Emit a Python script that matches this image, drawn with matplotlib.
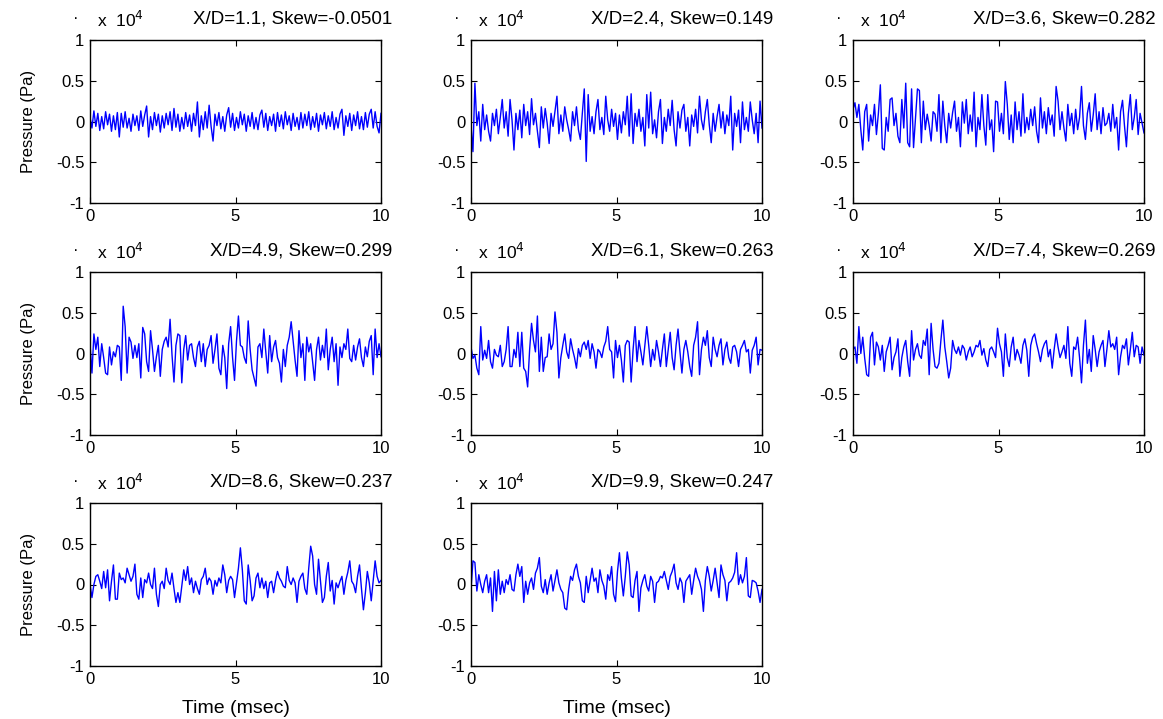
import numpy as np
import matplotlib
matplotlib.use("Agg")
import matplotlib.pyplot as plt

# ----------------------------------------------------------------------------------------------------------------------
# Pressure Traces (x 10^4 Pa), 150 Samples Over 10 msec

x_over_d = ["1.1", "2.4", "3.6", "4.9", "6.1", "7.4", "8.6", "9.9"]
skew = ["-0.0501", "0.149", "0.282", "0.299", "0.263", "0.269", "0.237", "0.247"]

p_11 = [0.05, -0.08, 0.13, -0.06, 0.10, -0.11, 0.06, -0.09, 0.12, -0.04,
        0.09, -0.12, 0.07, -0.10, 0.11, -0.19, 0.10, -0.07, 0.12, -0.08,
        0.04, -0.12, 0.09, -0.05, 0.07, -0.11, 0.13, -0.06, 0.08, 0.19,
        -0.19, 0.06, -0.10, 0.11, -0.05, 0.09, -0.13, 0.07, -0.08, 0.10,
        -0.04, 0.12, -0.11, 0.16, -0.07, 0.09, -0.12, 0.05, -0.09, 0.11,
        -0.06, 0.08, -0.12, 0.10, -0.05, 0.24, -0.19, 0.07, -0.10, 0.12,
        -0.08, 0.20, -0.06, -0.24, 0.09, -0.05, 0.11, -0.09, 0.06, -0.12,
        0.08, 0.17, -0.07, 0.10, -0.11, 0.05, -0.08, 0.12, -0.04, 0.09,
        -0.12, 0.07, -0.06, 0.11, -0.09, 0.05, -0.10, 0.08, 0.14, -0.07,
        0.10, -0.11, 0.06, -0.05, 0.09, -0.12, 0.11, -0.06, 0.08, -0.09,
        0.12, -0.04, 0.07, -0.11, 0.10, -0.06, 0.05, -0.10, 0.11, -0.08,
        0.09, -0.05, 0.12, -0.10, 0.06, -0.07, 0.10, -0.12, 0.08, -0.04,
        0.11, -0.09, 0.07, -0.06, 0.12, -0.10, 0.05, -0.08, 0.09, 0.15,
        -0.17, 0.07, -0.06, 0.10, -0.11, 0.08, -0.05, 0.12, -0.09, 0.06,
        -0.10, 0.11, -0.07, 0.09, 0.15, -0.08, 0.12, -0.06, -0.14, 0.10]

p_24 = [-0.05, -0.37, 0.47, -0.05, 0.12, -0.24, 0.21, -0.10, 0.08, -0.12,
        -0.24, 0.10, -0.05, 0.15, -0.15, 0.05, 0.27, -0.08, 0.12, -0.18,
        0.27, 0.02, -0.35, 0.10, -0.10, 0.14, -0.20, 0.21, -0.05, 0.12,
        -0.16, 0.28, -0.04, 0.10, -0.12, -0.32, 0.18, -0.08, 0.16, -0.02,
        -0.27, 0.10, -0.06, 0.12, 0.31, -0.15, 0.08, -0.12, 0.18, 0.02,
        -0.10, -0.24, 0.12, -0.05, 0.18, -0.10, -0.22, 0.10, 0.40, -0.49,
        0.33, -0.12, 0.06, -0.15, 0.12, 0.27, -0.10, 0.05, -0.16, 0.31,
        0.02, -0.12, 0.15, -0.06, 0.10, -0.22, 0.08, -0.14, 0.12, -0.04,
        0.31, -0.18, 0.34, -0.27, 0.10, -0.06, 0.15, -0.12, 0.05, -0.30,
        0.33, -0.08, 0.36, -0.15, 0.02, -0.20, 0.12, 0.27, -0.27, 0.05,
        -0.12, 0.15, -0.05, 0.26, -0.10, -0.30, 0.12, -0.08, 0.14, 0.21,
        -0.12, 0.05, -0.30, 0.08, -0.06, 0.15, -0.14, 0.31, 0.02, -0.10,
        0.12, 0.27, -0.04, -0.26, 0.10, -0.12, 0.06, 0.21, -0.08, 0.12,
        -0.15, 0.08, -0.05, 0.31, -0.35, 0.10, -0.06, 0.14, -0.26, 0.24,
        -0.10, 0.05, -0.12, 0.24, 0.02, -0.15, 0.10, -0.26, 0.25, -0.08]

p_36 = [0.15, 0.23, 0.05, 0.21, -0.10, -0.35, 0.12, 0.21, -0.24, 0.08,
        -0.05, 0.21, -0.16, 0.10, 0.45, -0.33, -0.35, 0.05, -0.12, 0.27,
        0.29, -0.05, 0.10, -0.18, -0.26, 0.27, -0.08, 0.47, -0.26, -0.31,
        0.40, -0.32, 0.05, 0.40, 0.38, -0.26, 0.25, -0.10, 0.09, -0.05,
        -0.24, 0.12, 0.09, -0.12, 0.33, -0.26, 0.25, -0.05, -0.26, 0.10,
        -0.08, 0.11, 0.25, -0.12, 0.05, -0.31, 0.24, -0.02, 0.27, -0.15,
        0.08, -0.12, 0.36, -0.31, 0.05, -0.10, 0.33, -0.05, -0.29, 0.33,
        -0.10, 0.02, -0.37, 0.25, 0.24, -0.12, 0.10, -0.15, 0.49, 0.21,
        -0.22, 0.08, -0.26, 0.24, -0.10, 0.12, -0.18, 0.34, -0.14, 0.05,
        -0.10, 0.15, -0.05, 0.18, -0.12, -0.26, 0.29, -0.08, 0.12, -0.15,
        0.17, -0.04, 0.08, -0.18, 0.43, 0.25, -0.10, 0.12, -0.08, -0.24,
        0.21, -0.05, 0.10, -0.15, 0.15, -0.10, 0.05, 0.43, -0.05, -0.22,
        0.10, 0.23, -0.12, 0.08, 0.34, -0.10, 0.12, -0.15, 0.17, -0.05,
        -0.02, 0.10, -0.12, 0.21, -0.08, 0.05, -0.35, 0.12, 0.26, -0.05,
        -0.31, 0.10, 0.33, -0.10, 0.05, 0.27, -0.16, 0.10, -0.02, -0.14]

p_49 = [0.12, -0.24, 0.24, 0.05, 0.20, -0.16, 0.12, -0.05, -0.24, -0.26,
        0.08, -0.14, 0.02, -0.04, 0.10, 0.08, -0.33, 0.58, 0.33, -0.24,
        0.20, 0.14, -0.06, 0.10, -0.05, 0.12, -0.30, 0.32, 0.24, -0.10,
        -0.22, 0.28, 0.05, -0.22, -0.04, 0.10, -0.28, 0.05, 0.15, 0.20,
        0.08, 0.42, -0.02, -0.35, 0.10, 0.24, 0.22, -0.36, 0.05, 0.22,
        -0.08, 0.10, 0.12, -0.05, -0.16, 0.08, 0.15, -0.10, 0.12, -0.16,
        0.05, 0.10, 0.22, -0.12, 0.05, 0.24, -0.18, -0.26, 0.10, -0.05,
        -0.43, 0.12, 0.33, -0.05, -0.33, 0.15, 0.46, 0.10, 0.08, -0.05,
        -0.12, 0.40, 0.05, -0.20, -0.30, -0.40, 0.08, 0.12, -0.05, 0.30,
        0.02, -0.24, 0.22, -0.10, 0.08, 0.16, -0.05, -0.12, -0.35, 0.05,
        -0.16, 0.10, 0.20, 0.39, 0.16, -0.08, -0.28, 0.28, -0.05, 0.12,
        -0.33, 0.20, 0.02, 0.12, -0.10, -0.33, 0.05, 0.20, -0.08, 0.10,
        -0.05, 0.30, -0.20, 0.05, 0.20, -0.10, 0.12, -0.39, 0.08, -0.05,
        0.12, 0.05, 0.30, -0.06, -0.10, 0.10, -0.08, 0.08, 0.18, -0.05,
        -0.16, 0.08, -0.04, 0.15, 0.22, -0.26, 0.30, -0.05, 0.12, -0.04]

p_61 = [0.08, -0.06, -0.02, -0.18, -0.26, 0.33, -0.08, 0.04, -0.06, 0.16,
        -0.10, -0.18, 0.05, -0.02, -0.04, 0.10, -0.16, -0.10, 0.05, 0.33,
        -0.16, -0.16, 0.05, -0.05, 0.26, -0.16, 0.26, -0.18, -0.22, -0.41,
        0.04, 0.37, 0.16, 0.02, 0.46, -0.22, 0.20, -0.22, -0.05, -0.04,
        0.24, 0.05, 0.12, 0.51, 0.26, -0.30, -0.05, 0.10, 0.24, 0.02,
        -0.06, 0.18, 0.05, -0.05, -0.18, 0.06, -0.04, 0.10, 0.14, 0.05,
        0.16, -0.06, 0.12, 0.02, -0.18, 0.05, 0.02, -0.05, 0.08, 0.15,
        0.33, 0.05, 0.02, -0.30, 0.16, -0.05, 0.10, -0.08, -0.35, 0.10,
        0.16, 0.14, -0.35, 0.05, 0.33, -0.10, 0.16, 0.02, -0.14, 0.10,
        0.33, 0.10, -0.16, 0.05, -0.08, 0.16, 0.02, -0.16, 0.05, 0.24,
        -0.16, 0.05, 0.26, -0.05, -0.20, 0.10, 0.30, 0.02, -0.24, 0.05,
        0.16, 0.02, -0.16, -0.28, 0.10, 0.20, 0.39, -0.26, 0.05, 0.20,
        0.10, 0.28, -0.05, -0.16, 0.20, 0.05, -0.04, 0.10, 0.18, -0.14,
        0.05, 0.14, -0.05, -0.12, 0.08, 0.10, 0.02, -0.16, 0.05, 0.10,
        0.16, 0.02, 0.05, -0.24, 0.04, 0.10, 0.20, -0.14, 0.05, 0.04]

p_74 = [0.05, 0.08, -0.12, 0.33, 0.00, 0.20, -0.06, -0.26, -0.28, 0.20,
        0.26, -0.14, 0.14, 0.08, -0.08, 0.10, -0.22, 0.02, 0.10, 0.20,
        -0.20, -0.05, 0.02, 0.18, -0.28, -0.05, 0.08, 0.16, -0.10, -0.28,
        0.28, -0.08, 0.05, 0.12, -0.02, -0.06, 0.16, 0.10, 0.30, -0.26,
        0.37, 0.05, -0.16, -0.18, -0.12, 0.16, 0.41, 0.08, -0.10, -0.30,
        -0.18, 0.16, 0.05, 0.00, 0.08, -0.02, 0.10, 0.06, -0.08, 0.02,
        0.08, -0.04, 0.02, 0.10, 0.08, 0.16, -0.02, 0.06, -0.08, -0.16,
        0.05, 0.08, 0.02, -0.05, 0.31, 0.12, 0.02, -0.28, 0.24, -0.05,
        -0.16, 0.08, 0.20, -0.08, 0.05, -0.02, -0.12, 0.10, 0.18, 0.04,
        -0.28, 0.10, 0.20, 0.24, 0.12, 0.02, -0.10, 0.05, 0.12, 0.16,
        -0.04, 0.05, -0.18, 0.05, 0.24, 0.08, -0.05, 0.02, 0.10, -0.06,
        0.33, -0.12, -0.28, 0.08, 0.05, 0.20, -0.05, -0.36, 0.10, 0.41,
        -0.12, 0.05, -0.22, 0.22, 0.05, -0.16, 0.02, 0.10, 0.16, -0.16,
        0.05, 0.28, 0.08, 0.12, 0.05, 0.20, -0.26, -0.04, 0.10, 0.06,
        0.18, -0.14, 0.05, 0.26, -0.04, 0.10, 0.08, -0.12, 0.08, -0.02]

p_86 = [0.00, -0.16, 0.00, 0.10, 0.12, 0.04, -0.05, 0.16, -0.04, 0.18,
        -0.20, 0.04, 0.24, -0.18, -0.18, 0.14, 0.06, 0.08, 0.02, 0.20,
        0.12, 0.04, 0.10, 0.25, -0.12, -0.18, 0.08, -0.16, 0.06, 0.02,
        0.14, 0.00, -0.05, 0.20, -0.12, -0.27, 0.00, 0.04, -0.05, 0.20,
        0.05, 0.00, 0.14, -0.05, -0.22, -0.10, -0.22, -0.02, 0.18, 0.05,
        0.22, 0.00, 0.08, -0.10, 0.04, -0.05, -0.12, 0.06, 0.10, 0.20,
        0.00, 0.08, 0.04, -0.12, 0.05, -0.02, 0.08, 0.02, 0.24, 0.12,
        -0.10, 0.05, 0.10, 0.06, -0.16, 0.02, 0.20, 0.45, 0.18, -0.20,
        -0.24, 0.24, 0.05, -0.20, -0.14, 0.08, 0.14, -0.04, 0.08, -0.05,
        0.04, -0.16, 0.02, 0.04, -0.10, 0.05, 0.16, 0.08, 0.04, -0.02,
        -0.04, 0.22, 0.05, 0.00, 0.08, 0.02, -0.22, 0.04, 0.10, 0.14,
        -0.05, -0.12, 0.20, 0.47, 0.35, 0.00, -0.12, 0.31, 0.05, -0.22,
        -0.16, 0.10, 0.27, -0.08, 0.05, -0.24, 0.02, -0.04, 0.04, 0.10,
        -0.12, 0.05, 0.15, 0.29, 0.04, 0.00, -0.10, 0.10, 0.24, -0.05,
        -0.31, -0.10, 0.16, 0.02, -0.20, 0.05, 0.29, 0.10, 0.02, 0.05]

p_99 = [-0.06, 0.29, 0.27, -0.08, 0.12, 0.00, -0.10, 0.04, 0.12, -0.10,
        0.08, -0.33, 0.16, -0.20, 0.18, -0.12, 0.04, -0.10, 0.06, 0.00,
        0.12, -0.06, -0.08, 0.12, 0.25, 0.10, 0.22, -0.22, 0.04, -0.12,
        0.02, 0.08, -0.06, 0.14, 0.20, 0.33, -0.02, -0.10, 0.06, -0.12,
        0.02, 0.12, -0.08, 0.05, 0.18, 0.02, -0.06, -0.10, -0.29, -0.31,
        -0.06, 0.10, 0.05, 0.18, 0.25, 0.10, 0.02, -0.20, -0.22, 0.10,
        -0.10, 0.05, 0.20, 0.04, 0.08, -0.10, 0.18, 0.05, -0.02, -0.18,
        0.12, 0.05, 0.22, -0.12, -0.21, 0.16, 0.39, 0.08, -0.14, 0.10,
        0.40, 0.24, -0.14, -0.16, 0.05, 0.16, -0.33, -0.04, 0.05, 0.12,
        -0.02, -0.08, 0.10, 0.04, -0.22, 0.02, 0.04, 0.10, 0.08, 0.16,
        0.05, -0.06, 0.10, 0.16, 0.25, 0.02, -0.06, 0.08, 0.02, -0.22,
        0.04, 0.08, 0.12, -0.12, 0.05, 0.20, 0.10, 0.04, -0.06, -0.33,
        0.05, 0.22, 0.10, -0.08, 0.05, 0.20, 0.02, -0.16, 0.24, 0.12,
        0.05, -0.20, 0.02, 0.04, 0.08, 0.15, 0.39, 0.00, 0.12, 0.02,
        0.10, 0.33, -0.14, -0.16, 0.05, 0.04, 0.02, -0.08, -0.22, -0.06]

traces = [p_11, p_24, p_36, p_49, p_61, p_74, p_86, p_99]
time_ms = np.linspace(0, 10, len(p_11))

# ----------------------------------------------------------------------------------------------------------------------
# Layout In Pixels (Left, Top) For Each Panel, Converted To Figure Fractions

W, H = 1163, 719
ax_w, ax_h = 291, 163
col_x = [90, 471, 853]
row_y = [40, 272, 503]

plt.rcParams["font.family"] = ["Liberation Sans", "DejaVu Sans"]
plt.rcParams["font.size"] = 12

fig = plt.figure(figsize=(W / 100, H / 100), dpi=100)

for i, trace in enumerate(traces):
    row, col = divmod(i, 3)
    left = col_x[col] / W
    bottom = 1 - (row_y[row] + ax_h) / H
    ax = fig.add_axes([left, bottom, ax_w / W, ax_h / H])

    ax.plot(time_ms, trace, color="#0000ff", linewidth=1.0)

    # MATLAB Style Box With Inward Ticks
    ax.set_xlim(0, 10)
    ax.set_ylim(-1, 1)
    ax.set_xticks([0, 5, 10])
    ax.set_yticks([-1, -0.5, 0, 0.5, 1])
    ax.set_yticklabels(["-1", "-0.5", "0", "0.5", "1"])
    ax.tick_params(direction="in", length=4, width=0.8, top=True, right=True,
                   labelsize=12, pad=4)
    for sp in ax.spines.values():
        sp.set_linewidth(1.0)

    # Exponent Label And Panel Title
    ax.text(-0.05, 1.13, "\u00b7", transform=ax.transAxes, fontsize=12, ha="center", va="center")
    ax.text(0.025, 1.12, r"x  10$^{4}$", transform=ax.transAxes, fontsize=12.5, ha="left", va="center")
    ax.text(1.04, 1.13, "X/D={}, Skew={}".format(x_over_d[i], skew[i]), transform=ax.transAxes,
            fontsize=13.5, ha="right", va="center")

    if col == 0:
        ax.set_ylabel("Pressure (Pa)", fontsize=12, labelpad=14)
    if row == 2:
        ax.set_xlabel("Time (msec)", fontsize=14, labelpad=10)

fig.savefig("out.png", dpi=100)
